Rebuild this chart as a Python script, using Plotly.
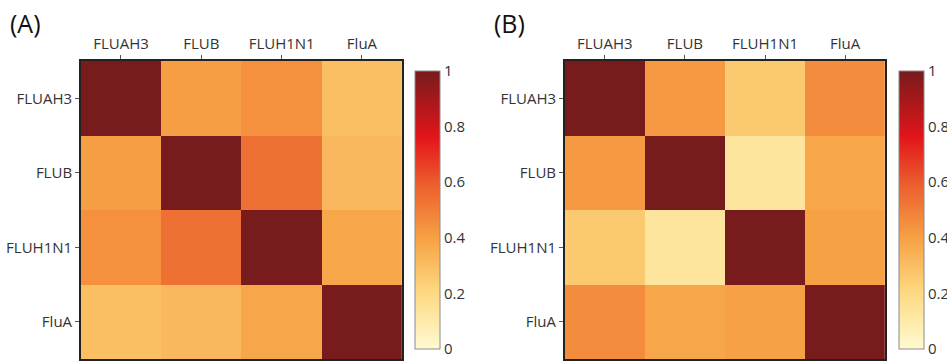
import plotly.graph_objects as go

labels = ["FLUAH3", "FLUB", "FLUH1N1", "FluA"]

corr_a = [
    [1.00, 0.41, 0.45, 0.30],
    [0.41, 1.00, 0.54, 0.32],
    [0.45, 0.54, 1.00, 0.38],
    [0.30, 0.32, 0.38, 1.00],
]

corr_b = [
    [1.00, 0.42, 0.26, 0.46],
    [0.42, 1.00, 0.13, 0.38],
    [0.26, 0.13, 1.00, 0.40],
    [0.46, 0.38, 0.40, 1.00],
]

colorscale = [
    [0.0, "#FFFAD2"],
    [0.2, "#FDDA82"],
    [0.4, "#F6A144"],
    [0.6, "#EC5B2C"],
    [0.76, "#E3151B"],
    [1.0, "#771B1C"],
]

W, H = 947, 361
FONT = "Open Sans"

def px_x(p):
    return p / W

def px_y(p):
    return 1 - p / H

fig = go.Figure()

panels = [
    (corr_a, "x", "y", 81, 403, 416),
    (corr_b, "x2", "y2", 566, 887, 901),
]

for z, xa, ya, x0, x1, cbx in panels:
    fig.add_trace(go.Heatmap(
        z=z, x=labels, y=labels, xaxis=xa, yaxis=ya,
        colorscale=colorscale, zmin=0, zmax=1,
        xgap=0, ygap=0,
        colorbar=dict(
            x=px_x(cbx), xanchor="left",
            y=px_y((71 + 349) / 2), yanchor="middle",
            len=349 - 71, lenmode="pixels",
            thickness=25, thicknessmode="pixels",
            outlinewidth=1, outlinecolor="#8a8a8a",
            tickvals=[0, 0.2, 0.4, 0.6, 0.8, 1],
            ticktext=["0", "0.2", "0.4", "0.6", "0.8", "1"],
            ticks="", ticklen=0,
            tickfont=dict(family=FONT, size=15, color="#333333"),
            xpad=0, ypad=0,
        ),
    ))

axis_common = dict(
    showline=True, linecolor="#222222", linewidth=1.5, mirror=True,
    ticks="outside", ticklen=4, tickcolor="#555555", tickwidth=1,
    tickfont=dict(family=FONT, size=15, color="#333333"),
    showgrid=False, zeroline=False,
)

fig.update_layout(
    width=W, height=H,
    margin=dict(l=0, r=0, t=0, b=0),
    paper_bgcolor="white", plot_bgcolor="white",
    font=dict(family=FONT),
    xaxis=dict(domain=[px_x(81), px_x(403)], side="top", anchor="y", **axis_common),
    yaxis=dict(domain=[px_y(359), px_y(61)], autorange="reversed", anchor="x", **axis_common),
    xaxis2=dict(domain=[px_x(566), px_x(887)], side="top", anchor="y2", **axis_common),
    yaxis2=dict(domain=[px_y(359), px_y(61)], autorange="reversed", anchor="x2", **axis_common),
    annotations=[
        dict(text="(A)", x=px_x(8), y=px_y(4), xref="paper", yref="paper",
             xanchor="left", yanchor="top", showarrow=False,
             font=dict(family=FONT, size=25, color="#111111")),
        dict(text="(B)", x=px_x(493), y=px_y(4), xref="paper", yref="paper",
             xanchor="left", yanchor="top", showarrow=False,
             font=dict(family=FONT, size=25, color="#111111")),
    ],
)

fig.write_html(
    "out.html",
    config={"displayModeBar": False},
    post_script="document.body.style.margin='0';document.body.style.padding='0';document.body.style.overflow='hidden';",
)
